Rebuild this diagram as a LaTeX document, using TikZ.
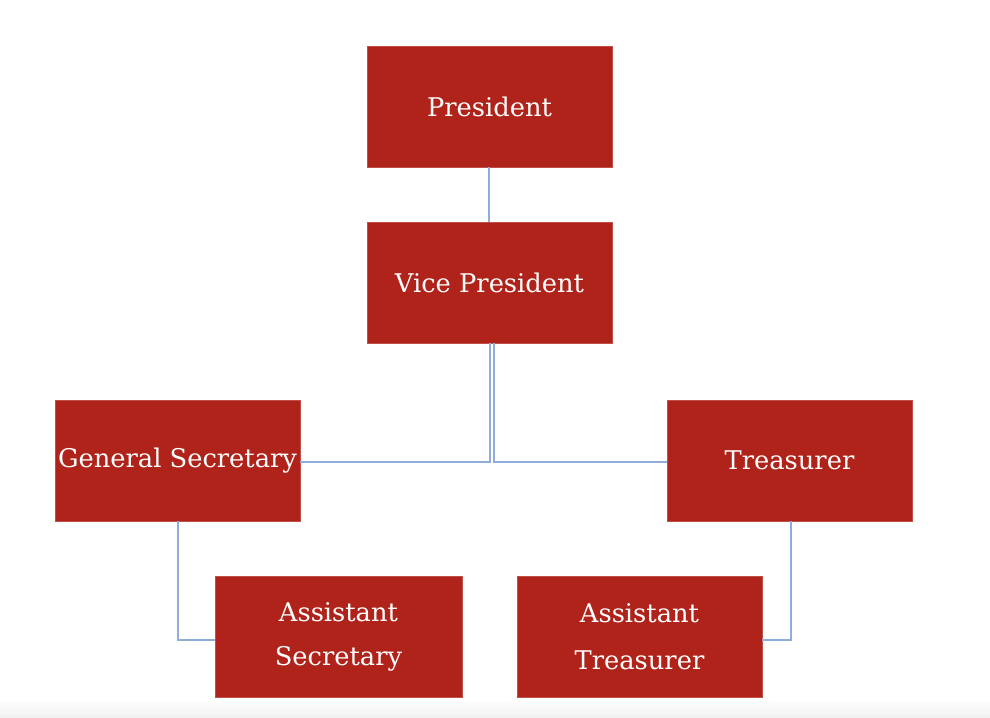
\documentclass[tikz,border=0pt]{standalone}
\usepackage{fontspec}
\setmainfont{DejaVu Serif}
\definecolor{boxred}{RGB}{176,35,26}
\definecolor{linkblue}{RGB}{143,172,218}
\tikzset{
  post/.style={draw=boxred!80!white,line width=.6pt,fill=boxred,text=white,
    minimum width=183.75pt,minimum height=90.75pt,inner sep=0pt,align=center,
    font=\fontsize{19.3}{23}\selectfont},
  link/.style={draw=linkblue,line width=1.5pt}
}

\begin{document}
\begin{tikzpicture}[x=.75pt,y=-.75pt]
 \useasboundingbox (0,0) rectangle (990,718);
 \shade[top color=white,bottom color=black!6] (0,700) rectangle (990,718);
 \node[post] (pres) at (489.5,106.5) {President};
 \node[post] (vp) at (489.5,282.5) {Vice President};
 \node[post] (gensec) at (177.5,460.5) {General Secretary};
 \node[post] (treas) at (789.5,460.5) {Treasurer};
 \node[post,minimum width=185.25pt] (asec) at (338.5,636.5) {Assistant\\[10pt]Secretary};
 \node[post] (atreas) at (639.5,636.5) {Assistant\\[12pt]Treasurer};
 % connectors
 \draw[link] ([xshift=-.4pt]pres.south) -- ([xshift=-.4pt]vp.north);
 \draw[link] ([xshift=.3pt]vp.south) |- ([yshift=-1.1pt]gensec.east);
 \draw[link] ([xshift=3.5pt]vp.south) |- ([yshift=-1.1pt]treas.west);
 \draw[link] ([xshift=.4pt]gensec.south) |- ([yshift=-2.6pt]asec.west);
 \draw[link] ([xshift=1.1pt]treas.south) |- ([yshift=-2.6pt]atreas.east);
\end{tikzpicture}
\end{document}
